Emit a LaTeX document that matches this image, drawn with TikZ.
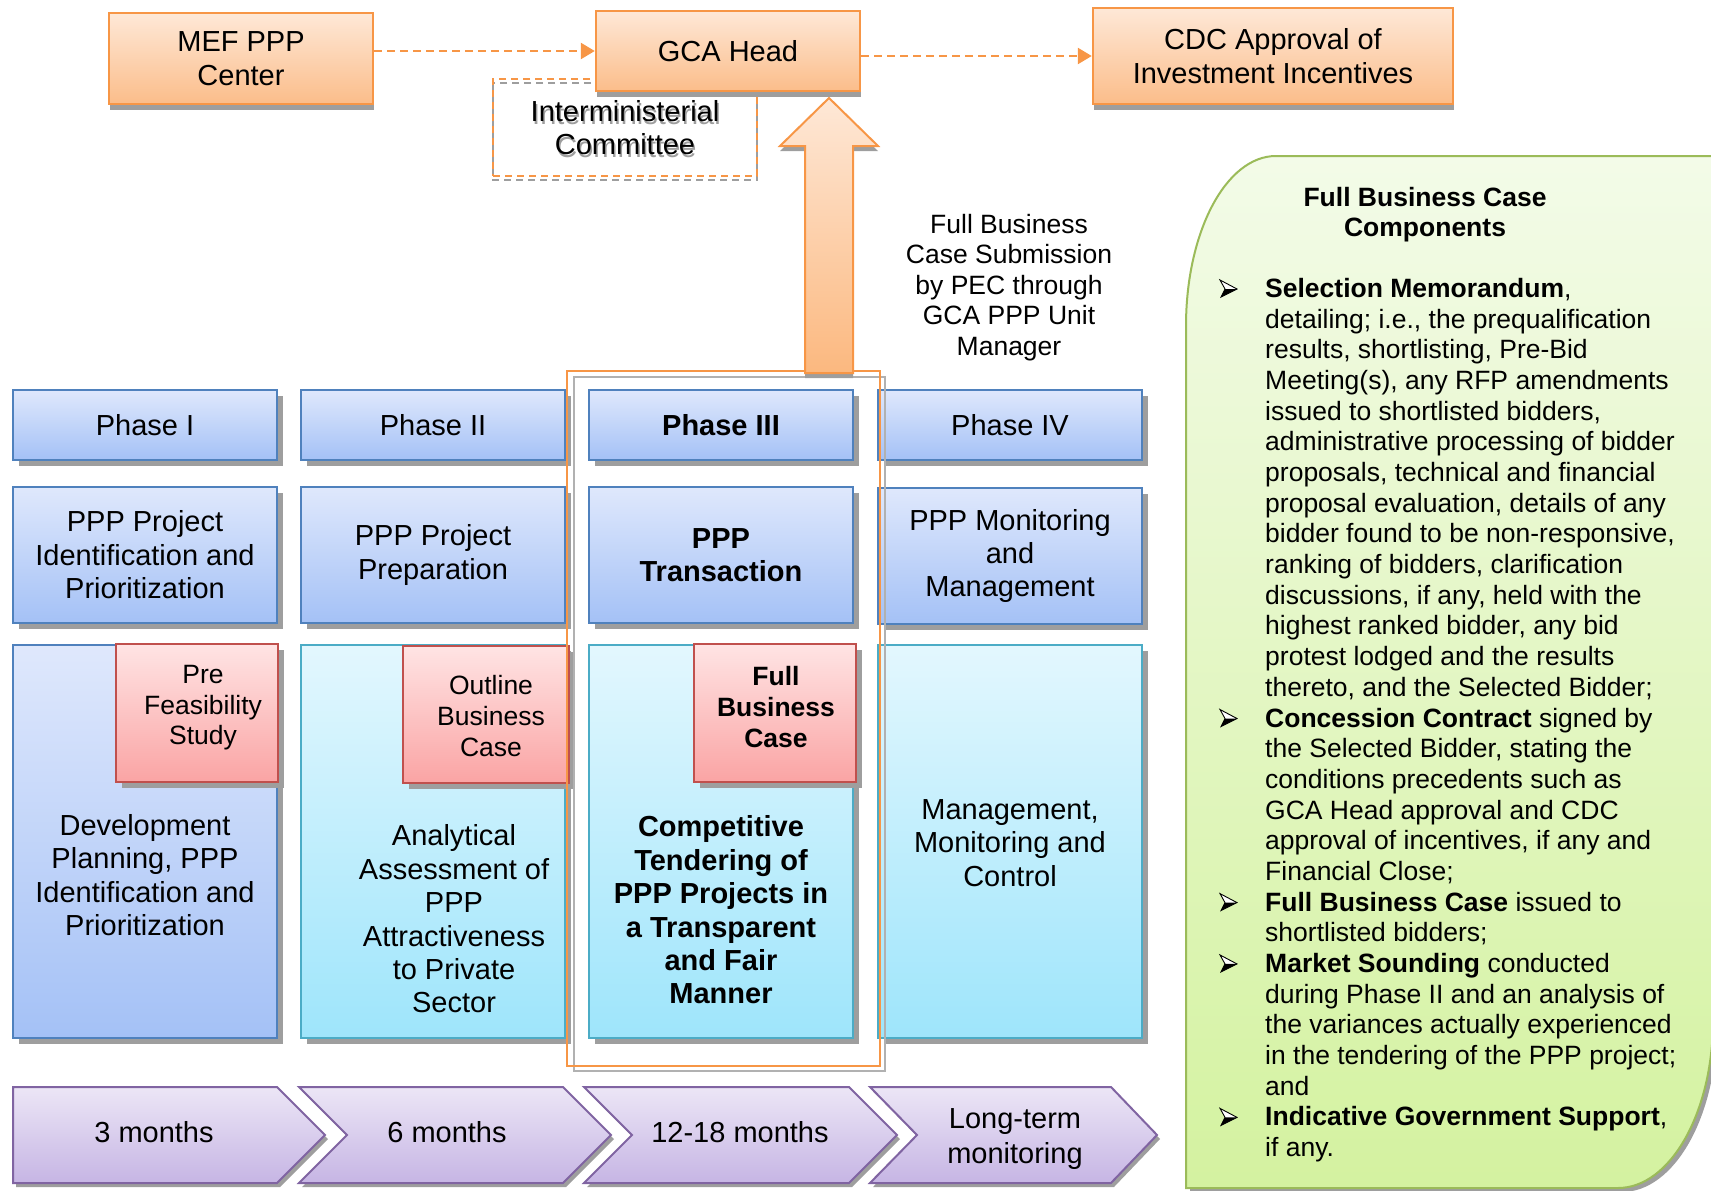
\documentclass[tikz,border=0pt]{standalone}
\usepackage{fontspec}
\setmainfont{Liberation Sans}
\usetikzlibrary{arrows.meta,shadows,calc}

\definecolor{orline}{HTML}{F79646}
\definecolor{ortop}{HTML}{FEE8D7}
\definecolor{orbot}{HTML}{FBBD8A}
\definecolor{blline}{HTML}{4F81BD}
\definecolor{bltop}{HTML}{DFE8FC}
\definecolor{blbot}{HTML}{A4C1F6}
\definecolor{cyline}{HTML}{4BACC6}
\definecolor{cytop}{HTML}{E3F7FE}
\definecolor{cybot}{HTML}{9EE5FB}
\definecolor{pkline}{HTML}{C0504D}
\definecolor{pktop}{HTML}{FFE4E4}
\definecolor{pkbot}{HTML}{FAA4A4}
\definecolor{gnline}{HTML}{9BBB59}
\definecolor{gntop}{HTML}{F3FBE8}
\definecolor{gnbot}{HTML}{D4F2A0}
\definecolor{puline}{HTML}{8064A2}
\definecolor{putop}{HTML}{ECE6F6}
\definecolor{pubot}{HTML}{C6B5E4}
\definecolor{shgray}{HTML}{9E9E9E}

\newcommand\fsmain{\fontsize{29}{33.4}\selectfont}
\newcommand\fssmall{\fontsize{26.5}{30.6}\selectfont}

\tikzset{
  shadowbig/.style={drop shadow={shadow xshift=6pt, shadow yshift=-6pt, fill=shgray, opacity=1}},
  shadowlow/.style={drop shadow={shadow xshift=1pt, shadow yshift=-6pt, fill=shgray, opacity=1}},
  shadowchev/.style={drop shadow={shadow xshift=3pt, shadow yshift=-4pt, fill=shgray, opacity=1}},
  cell/.style={draw, line width=2.4pt, inner sep=0pt, align=center, font=\fsmain},
  orangebox/.style={cell, draw=orline, top color=ortop, bottom color=orbot, shadowlow},
  bluebox/.style={cell, draw=blline, top color=bltop, bottom color=blbot, shadowbig},
  cyanbox/.style={cell, draw=cyline, top color=cytop, bottom color=cybot, shadowbig},
  pinkbox/.style={cell, draw=pkline, top color=pktop, bottom color=pkbot, shadowbig, font=\fssmall},
  phaserow/.style={bluebox, minimum width=264pt, minimum height=70pt},
  titlerow/.style={bluebox, minimum width=264pt, minimum height=136pt},
  bodyrow/.style={minimum width=264pt, minimum height=393pt},
  pinksize/.style={minimum width=162pt, minimum height=138pt},
  bodytext/.style={align=center, font=\fsmain, inner sep=0pt},
  dasharrow/.style={draw=orline, line width=2.6pt, dash pattern=on 8pt off 5pt,
    -{Triangle[length=14pt,width=16pt,fill=orline]}},
  chevron/.style={draw=puline, line width=2pt, top color=putop, bottom color=pubot, shadowchev},
  panelline/.style={font=\fssmall, inner sep=0pt, anchor=base west},
  bul/.pic={
    \draw[black, line width=0.9pt, fill=white, line join=miter] (-8,-8) -- (9,1) -- (-7,9) -- (-3,1) -- cycle;
    \fill[black] (-3,1) -- (9,1) -- (-7,9) -- cycle;
  }
}

\begin{document}
\begin{tikzpicture}[x=1pt,y=-1pt]
\useasboundingbox (0,0) rectangle (1711,1191);

% ---------- components panel on the right ----------
\begin{scope}
  \clip (0,0) rectangle (1711,1191);
  \path[draw=gnline, line width=2pt, top color=gntop, bottom color=gnbot,
        drop shadow={shadow xshift=4pt, shadow yshift=-4pt, fill=shgray, opacity=1}]
    (1186,326) .. controls (1186,232) and (1226,156) .. (1276,156)
    -- (1740,156) -- (1740,900) -- (1713,1020)
    .. controls (1713,1113) and (1670,1188) .. (1618,1188)
    -- (1186,1188) -- cycle;
\end{scope}

\node[font=\fssmall\bfseries, align=center, inner sep=0pt] (fbh) at (1425,214.5)
  {Full Business Case\\Components};

\foreach \k in {0,14,20,22,27}
  \pic at (1228,{288+\k*30.68}) {bul};

\foreach \i/\t in {
  0/{\textbf{Selection Memorandum},},
  1/{detailing; i.e., the prequalification},
  2/{results, shortlisting, Pre-Bid},
  3/{Meeting(s), any RFP amendments},
  4/{issued to shortlisted bidders,},
  5/{administrative processing of bidder},
  6/{proposals, technical and financial},
  7/{proposal evaluation, details of any},
  8/{bidder found to be non-responsive,},
  9/{ranking of bidders, clarification},
  10/{discussions, if any, held with the},
  11/{highest ranked bidder, any bid},
  12/{protest lodged and the results},
  13/{thereto, and the Selected Bidder;},
  14/{\textbf{Concession Contract} signed by},
  15/{the Selected Bidder, stating the},
  16/{conditions precedents such as},
  17/{GCA Head approval and CDC},
  18/{approval of incentives, if any and},
  19/{Financial Close;},
  20/{\textbf{Full Business Case} issued to},
  21/{shortlisted bidders;},
  22/{\textbf{Market Sounding} conducted},
  23/{during Phase II and an analysis of},
  24/{the variances actually experienced},
  25/{in the tendering of the PPP project;},
  26/{and},
  27/{\textbf{Indicative Government Support},},
  28/{if any.}}
  \node[panelline] (fbl\i) at (1265,{297.5+\i*30.68}) {\t};

% ---------- approval bodies ----------
\draw[shgray, line width=2pt, dash pattern=on 7pt off 5pt]
  (493,83) rectangle (757,180);
\node[bodytext, text=shgray] (imcs) at (626.5,130.5) {Interministerial\\Committee};
\node[draw=orline, line width=2pt, dash pattern=on 7pt off 5pt, bodytext,
      minimum width=264pt, minimum height=97pt] (imc) at (625,127.5)
  {Interministerial\\Committee};

\node[orangebox, minimum width=264pt, minimum height=91pt] (mef) at (241,58.5) {MEF PPP\\Center};
\node[orangebox, minimum width=264pt, minimum height=80pt] (gca) at (728,51) {GCA Head};
\node[orangebox, minimum width=360pt, minimum height=96pt] (cdc) at (1273,56)
  {CDC Approval of\\Investment Incentives};

\draw[dasharrow] (mef.east |- gca.west) -- (gca.west);
\draw[dasharrow] (gca.east |- cdc.west) -- (cdc.west);

% ---------- phase grid ----------
\node[phaserow] (p1) at (145,425) {Phase I};
\node[phaserow] (p2) at (433,425) {Phase II};
\node[phaserow, font=\fsmain\bfseries] (p3) at (721,425) {Phase III};
\node[phaserow] (p4) at (1010,425) {Phase IV};

\node[titlerow] (t1) at (145,555) {PPP Project\\Identification and\\Prioritization};
\node[titlerow] (t2) at (433,555) {PPP Project\\Preparation};
\node[titlerow, font=\fsmain\bfseries] (t3) at (721,555) {PPP\\Transaction};
\node[titlerow] (t4) at (1010,556) {PPP Monitoring\\and\\Management};

\node[bluebox, bodyrow] (b1) at (145,841.5) {};
\node[cyanbox, bodyrow] (b2) at (433,841.5) {};
\node[cyanbox, bodyrow] (b3) at (721,841.5) {};
\node[cyanbox, bodyrow] (b4) at (1010,841.5) {};

\node[pinkbox, pinksize] (k1) at (197,713) {};
\node[pinkbox, minimum width=166pt, minimum height=137pt] (k2) at (486,714.5) {};
\node[pinkbox, pinksize] (k3) at (775,713) {};

\node[bodytext, font=\fssmall] (k1t) at (203,708) {Pre\\Feasibility\\Study};
\node[bodytext, font=\fssmall] (k2t) at (491,716) {Outline\\Business\\Case};
\node[bodytext, font=\fssmall\bfseries] (k3t) at (776,707) {Full\\Business\\Case};

\node[bodytext] (b1t) at (145,875) {Development\\Planning, PPP\\Identification and\\Prioritization};
\node[bodytext] (b2t) at (454,919) {Analytical\\Assessment of\\PPP\\Attractiveness\\to Private\\Sector};
\node[bodytext, font=\fsmain\bfseries] (b3t) at (721,910)
  {Competitive\\Tendering of\\PPP Projects in\\a Transparent\\and Fair\\Manner};
\node[bodytext] (b4t) at (1010,843) {Management,\\Monitoring and\\Control};

% ---------- Phase III highlight frame ----------
\draw[shgray!80, line width=1.6pt] (574,377) rectangle (885,1071);
\draw[orline, line width=1.6pt] (567,371) rectangle (880,1066);

% ---------- submission arrow up to GCA Head ----------
\path[draw=orline, line width=2pt, top color=ortop, bottom color=orbot!92!orange,
      drop shadow={shadow xshift=0pt, shadow yshift=-5pt, fill=shgray, opacity=1}]
  (805,373) -- (805,146) -- (780,146) -- (829,98) -- (878,146) -- (853,146) -- (853,373) -- cycle;

\node[align=center, font=\fssmall, inner sep=0pt] (sub) at (1009,287.5)
  {Full Business\\Case Submission\\by PEC through\\GCA PPP Unit\\Manager};

% ---------- timeline chevrons ----------
\path[chevron] (13,1087) -- (277,1087) -- (325,1135) -- (277,1183) -- (13,1183) -- cycle;
\path[chevron] (299,1087) -- (563,1087) -- (611,1135) -- (563,1183) -- (299,1183) -- (347,1135) -- cycle;
\path[chevron] (584,1087) -- (849,1087) -- (897,1135) -- (849,1183) -- (584,1183) -- (632,1135) -- cycle;
\path[chevron] (870,1087) -- (1111,1087) -- (1157,1135) -- (1111,1183) -- (870,1183) -- (917,1135) -- cycle;

\node[bodytext] (m1) at (154,1132) {3 months};
\node[bodytext] (m2) at (447,1132) {6 months};
\node[bodytext] (m3) at (740,1132) {12-18 months};
\node[bodytext, font=\fontsize{29}{34.5}\selectfont] (m4) at (1015,1139) {Long-term\\monitoring};

\end{tikzpicture}
\end{document}
